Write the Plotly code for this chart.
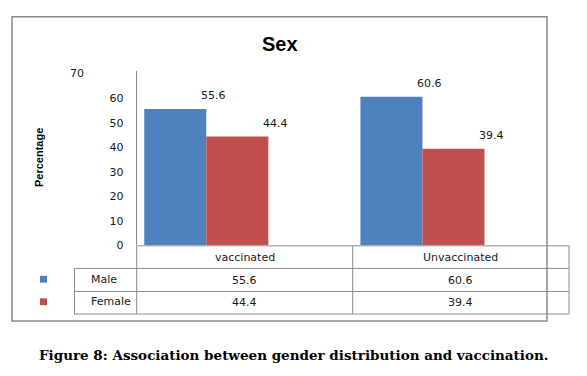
import plotly.graph_objects as go

# ---- data ----
categories = ["vaccinated", "Unvaccinated"]
series_names = ["Male", "Female"]
male_values = [55.6, 60.6]
female_values = [44.4, 39.4]
y_ticks = [0, 10, 20, 30, 40, 50, 60]
y_top_label = 70
title_text = "Sex"
y_title = "Percentage"
caption = "Figure 8: Association between gender distribution and vaccination."

# ---- layout helpers ----
W, H = 587, 376
def px(p):
    return p / W
def py(p):
    return 1 - p / H

BLUE = "#4F81BD"
RED = "#C0504D"
LINE = "#8C8C8C"
TXT = "#1a1a1a"
FONT = "DejaVu Sans"

plot_l, plot_r = 136.7, 569
plot_t, plot_b = 72, 250

bar_w = 0.287
shift = -0.465

fig = go.Figure()
values_by_series = [male_values, female_values]
colors = [BLUE, RED]
for k, (name, vals, col) in enumerate(zip(series_names, values_by_series, colors)):
    fig.add_trace(go.Bar(
        x=categories, y=vals, name=name,
        marker=dict(color=col, line=dict(width=0)),
        width=bar_w, offset=shift + k * bar_w,
        showlegend=False,
    ))

def ann(**kw):
    d = dict(showarrow=False, xanchor="center", yanchor="middle")
    d.update(kw)
    return d

annotations = []
# data labels above bars
for k, vals in enumerate(values_by_series):
    for i, v in enumerate(vals):
        annotations.append(ann(
            x=i + (k - 0.5) * bar_w, y=v, xref="x", yref="y",
            text=f"{v}", yshift=13,
            font=dict(family=FONT, size=11, color=TXT)))

# top "70" label (offset in original)
annotations.append(ann(x=px(77), y=y_top_label, xref="paper", yref="y",
                       text=str(y_top_label),
                       font=dict(family=FONT, size=11, color=TXT)))

# title
annotations.append(ann(x=px(280), y=py(45), xref="paper", yref="paper",
                       text=f"<b>{title_text}</b>",
                       font=dict(family="Liberation Sans", size=20, color="#000")))
# y title
annotations.append(ann(x=px(39), y=py(161), xref="paper", yref="paper",
                       text=f"<b>{y_title}</b>", textangle=-90,
                       font=dict(family="Liberation Sans", size=11, color="#000")))

# data table
row_header_y = 262
row_y = [285.5, 308.5]
for i, c in enumerate(categories):
    annotations.append(ann(x=i, y=py(row_header_y), xref="x", yref="paper",
                           text=c, font=dict(family=FONT, size=11, color=TXT)))
for k, vals in enumerate(values_by_series):
    for i, v in enumerate(vals):
        annotations.append(ann(x=i, y=py(row_y[k]), xref="x", yref="paper",
                               text=f"{v}",
                               font=dict(family=FONT, size=11, color=TXT)))
    annotations.append(ann(x=px(89), y=py(row_y[k] - 1), xref="paper", yref="paper",
                           text=series_names[k], xanchor="left",
                           font=dict(family=FONT, size=11, color=TXT)))

# caption
annotations.append(ann(x=px(294), y=py(362), xref="paper", yref="paper",
                       text=f"<b>{caption}</b>",
                       font=dict(family="DejaVu Serif", size=13.5, color="#000")))

shapes = []
# outer border
shapes.append(dict(type="rect", xref="paper", yref="paper",
                   x0=px(12), x1=px(547), y0=py(327), y1=py(17),
                   line=dict(color="#8A8A8A", width=1.5)))
# table horizontal lines
shapes.append(dict(type="line", xref="paper", yref="paper", x0=px(plot_l), x1=px(plot_r),
                   y0=py(250.5), y1=py(250.5), line=dict(color=LINE, width=1)))
for yy in [273.5, 297, 320]:
    shapes.append(dict(type="line", xref="paper", yref="paper", x0=px(74.5), x1=px(plot_r),
                       y0=py(yy), y1=py(yy), line=dict(color=LINE, width=1)))
# table vertical lines
shapes.append(dict(type="line", xref="paper", yref="paper", x0=px(74.5), x1=px(74.5),
                   y0=py(273.5), y1=py(320), line=dict(color=LINE, width=1)))
for xx in [plot_l, 352.7, plot_r]:
    shapes.append(dict(type="line", xref="paper", yref="paper", x0=px(xx), x1=px(xx),
                       y0=py(250.5), y1=py(320), line=dict(color=LINE, width=1)))
# legend keys
for k, col in enumerate(colors):
    cy = row_y[k] - 1
    shapes.append(dict(type="rect", xref="paper", yref="paper",
                       x0=px(40), x1=px(47), y0=py(cy + 3.5), y1=py(cy - 3.5),
                       fillcolor=col, line=dict(width=0)))

fig.update_layout(
    width=W, height=H,
    margin=dict(l=0, r=0, t=0, b=0),
    paper_bgcolor="white", plot_bgcolor="white",
    barmode="overlay",
    xaxis=dict(domain=[px(plot_l), px(plot_r)], range=[-0.5, 1.5],
               showticklabels=False, showgrid=False, zeroline=False,
               showline=False, ticks=""),
    yaxis=dict(domain=[py(plot_b), py(plot_t)], range=[0, (plot_b - plot_t) / 2.5],
               tickvals=y_ticks, ticktext=[str(t) for t in y_ticks],
               showgrid=False, zeroline=False, showline=True,
               linecolor="#868686", linewidth=1, ticks="",
               ticklabelstandoff=10,
               tickfont=dict(family=FONT, size=11, color=TXT)),
    annotations=annotations,
    shapes=shapes,
    showlegend=False,
)

fig.write_html("out.html", config={"displayModeBar": False},
               post_script="document.body.style.margin='0';document.body.style.overflow='hidden';")
